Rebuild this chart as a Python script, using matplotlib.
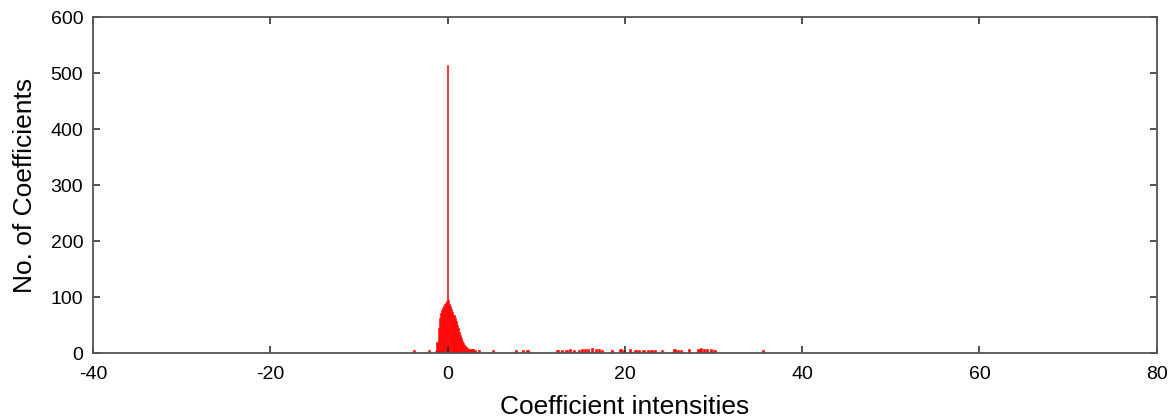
import numpy as np
import matplotlib
matplotlib.use('Agg')
from matplotlib import pyplot as plt

plt.rcParams['font.family'] = ['Liberation Sans', 'DejaVu Sans']
plt.rcParams['axes.unicode_minus'] = False

# main body of the histogram, bins of width 0.12 starting at -1.32
bin_start = -1.32
bin_width = 0.12
body_counts = [4, 20, 45, 62, 72, 76, 80, 84, 88, 90, 92, 515, 94, 88, 84, 79,
               73, 68, 63, 57, 50, 44, 38, 33, 27, 21, 17, 14, 12, 10, 9, 8,
               8, 8, 7, 8, 6, 5]

# scattered small bins away from the peak
sparse_x = [-3.8, -2.1, 3.5, 5.1, 7.7, 8.5, 9.0, 12.4, 12.9, 13.4, 13.8, 14.3,
            14.8, 15.2, 15.5, 15.8, 16.3, 16.7, 17.1, 17.4, 18.5, 19.5, 19.9,
            20.6, 21.2, 21.6, 22.1, 22.6, 23.0, 23.4, 24.2, 25.6, 26.0, 26.3,
            27.2, 28.3, 28.6, 28.9, 29.3, 29.7, 30.1, 35.6]
sparse_counts = [6, 6, 6, 6, 6, 6, 6, 6, 6, 6, 7, 6, 6, 8, 8, 7, 9, 8, 7, 6,
                 6, 7, 6, 7, 6, 6, 6, 6, 6, 6, 5, 7, 6, 6, 7, 8, 9, 8, 8, 7,
                 6, 6]

x_ticks = [-40, -20, 0, 20, 40, 60, 80]
y_ticks = [0, 100, 200, 300, 400, 500, 600]

fig = plt.figure(figsize=(11.72, 4.2), dpi=100)
ax = fig.add_axes([0.0794, 0.1595, 0.9076, 0.80])

body_x = [bin_start + i * bin_width for i in range(len(body_counts))]
ax.bar(body_x, body_counts, width=bin_width, color='red', edgecolor='red', linewidth=0.4)
ax.bar(sparse_x, sparse_counts, width=0.25, color='red', edgecolor='red', linewidth=0.4)

ax.set_xlim(-40, 80)
ax.set_ylim(0, 600)
ax.set_xticks(x_ticks)
ax.set_yticks(y_ticks)
ax.tick_params(direction='in', top=True, right=True, length=5, width=1.2,
               labelsize=14, colors='#333333', labelcolor='black')
ax.tick_params(axis='x', pad=9)
ax.tick_params(axis='y', pad=7)
for s in ax.spines.values():
    s.set_color('#555555')
    s.set_linewidth(1.3)

ax.set_xlabel('Coefficient intensities', fontsize=19, labelpad=9)
ax.set_ylabel('No. of Coefficients', fontsize=19, labelpad=10)

fig.savefig('out.png', dpi=100)
